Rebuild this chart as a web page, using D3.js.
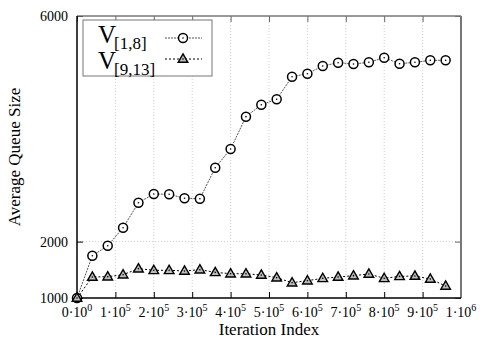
<!DOCTYPE html>
<html>
<head>
<meta charset="utf-8">
<script src="https://cdn.jsdelivr.net/npm/d3@7"></script>
<style>
body{margin:0;background:#fff}
text{font-family:"Liberation Serif","DejaVu Serif",serif;fill:#000}
</style>
</head>
<body>
<div id="chart"></div>
<script>
const iterations=[0,40000,80000,120000,160000,200000,240000,280000,320000,360000,400000,440000,480000,
	520000,560000,600000,640000,680000,720000,760000,800000,840000,880000,920000,960000]
const queueLow=[1000,1750,1927,2246,2690,2844,2839,2768,2761,3310,3642,4215,4427,
	4523,4924,4977,5113,5172,5149,5179,5261,5154,5179,5214,5214]
const queueHigh=[1000,1372,1378,1413,1520,1491,1491,1479,1502,1455,1431,1430,1408,
	1360,1271,1307,1349,1372,1396,1426,1349,1384,1390,1337,1213]
const xTicks=[0,100000,200000,300000,400000,500000,600000,700000,800000,900000,1000000]
const xTickMant=['0','1','2','3','4','5','6','7','8','9','1']
const xTickExp=['0','5','5','5','5','5','5','5','5','5','6']
const yTicks=[1000,2000,6000]

const margin=({top:16,right:24,bottom:41,left:77})
const width=485-margin.left-margin.right,
	height=339-margin.top-margin.bottom

let svg=d3.select('#chart').append('svg')
	.attr('width',485)
	.attr('height',339)
	.append('g')
	.attr('transform','translate('+margin.left+','+margin.top+')')

let xScale=d3.scaleLinear().domain([0,1000000]).range([0,width])
let yScale=d3.scaleLinear().domain([1000,6000]).range([height,0])

// grid
svg.append('g').selectAll('line').data(xTicks.slice(1,-1)).join('line')
	.attr('x1',d=>xScale(d)).attr('x2',d=>xScale(d))
	.attr('y1',0).attr('y2',height)
	.attr('stroke','#d0d0d0').attr('stroke-dasharray','1,2')
svg.append('g').selectAll('line').data(yTicks.slice(1,-1)).join('line')
	.attr('y1',d=>yScale(d)).attr('y2',d=>yScale(d))
	.attr('x1',0).attr('x2',width)
	.attr('stroke','#d0d0d0').attr('stroke-dasharray','1,2')

// inward ticks on all sides
svg.append('g')
	.attr('transform',`translate(0,${height})`)
	.call(d3.axisBottom(xScale).tickValues(xTicks).tickSizeInner(-6).tickSizeOuter(0).tickFormat(''))
let xTop=svg.append('g')
	.call(d3.axisTop(xScale).tickValues(xTicks).tickSizeInner(-6).tickSizeOuter(0).tickFormat(''))
svg.append('g')
	.call(d3.axisLeft(yScale).tickValues(yTicks).tickSizeInner(-6).tickSizeOuter(0).tickFormat(''))
let yRight=svg.append('g')
	.attr('transform',`translate(${width},0)`)
	.call(d3.axisRight(yScale).tickValues(yTicks).tickSizeInner(-6).tickSizeOuter(0).tickFormat(''))
svg.selectAll('.domain').remove()
xTop.selectAll('line').attr('stroke','#666')
yRight.selectAll('line').attr('stroke','#666')

svg.append('line').attr('x1',0).attr('x2',width).attr('y1',0).attr('y2',0)
	.attr('stroke','#777').attr('stroke-width',1.5)
svg.append('line').attr('x1',width).attr('x2',width).attr('y1',0).attr('y2',height)
	.attr('stroke','#777').attr('stroke-width',2)
svg.append('line').attr('x1',0).attr('x2',width).attr('y1',height).attr('y2',height)
	.attr('stroke','#000').attr('stroke-width',1.5)
svg.append('line').attr('x1',0).attr('x2',0).attr('y1',0).attr('y2',height)
	.attr('stroke','#000').attr('stroke-width',1.5)

// tick labels
svg.append('g').selectAll('text').data(yTicks).join('text')
	.attr('x',-9).attr('y',d=>yScale(d)+5)
	.attr('text-anchor','end').attr('font-size',14)
	.text(d=>d)

let xl=svg.append('g').selectAll('text').data(xTicks).join('text')
	.attr('x',d=>xScale(d)).attr('y',height+19)
	.attr('text-anchor','middle').attr('font-size',14)
xl.append('tspan').text((d,i)=>xTickMant[i]+'\u00b710')
xl.append('tspan').attr('dy',-6).attr('font-size',10).text((d,i)=>xTickExp[i])

svg.append('text')
	.attr('x',width/2).attr('y',height+37)
	.attr('text-anchor','middle').attr('font-size',17)
	.text('Iteration Index')
svg.append('text')
	.attr('transform',`translate(${-57},${height/2}) rotate(-90)`)
	.attr('text-anchor','middle').attr('font-size',17)
	.text('Average Queue Size')

// series
const series=[
	{name:'[1,8]',values:queueLow,marker:'circle',stroke:'#555',dash:'2,1'},
	{name:'[9,13]',values:queueHigh,marker:'triangle',stroke:'#000',dash:'2,2'}
]
const tri=d3.symbol().type(d3.symbolTriangle).size(40)

function drawMarker(g,type){
	if(type==='circle'){
		g.append('circle').attr('r',4.5).attr('fill','#fff').attr('stroke','#000').attr('stroke-width',1.5)
	}else{
		g.append('path').attr('d',tri).attr('transform','translate(0,0.5)')
			.attr('fill','#bbb').attr('stroke','#000').attr('stroke-width',1.4)
	}
	g.append('circle').attr('r',0.8).attr('fill','#000')
}

let line=d3.line()
	.x((d,i)=>xScale(iterations[i]))
	.y(d=>yScale(d))

series.forEach(s=>{
	svg.append('path')
		.datum(s.values)
		.attr('fill','none')
		.attr('stroke',s.stroke)
		.attr('stroke-width',1)
		.attr('stroke-dasharray',s.dash)
		.attr('d',line)
	svg.append('g').selectAll('g').data(s.values).join('g')
		.attr('transform',(d,i)=>`translate(${xScale(iterations[i])},${yScale(d)})`)
		.each(function(){drawMarker(d3.select(this),s.marker)})
})

// legend
let legend=svg.append('g').attr('transform','translate(6,4)')
legend.append('rect')
	.attr('width',129).attr('height',56)
	.attr('fill','#fff').attr('stroke','#777').attr('stroke-width',1)
series.forEach((s,i)=>{
	let vy=23+i*26
	legend.append('text')
		.attr('x',15).attr('y',vy)
		.attr('font-size',25)
		.text('V')
	legend.append('text')
		.attr('x',31).attr('y',vy+6)
		.attr('font-size',17)
		.text(s.name)
	let ly=18+i*21
	legend.append('line')
		.attr('x1',82).attr('x2',119).attr('y1',ly).attr('y2',ly)
		.attr('stroke',s.stroke).attr('stroke-dasharray',s.dash)
	drawMarker(legend.append('g').attr('transform',`translate(100,${ly})`),s.marker)
})
</script>
</body>
</html>
